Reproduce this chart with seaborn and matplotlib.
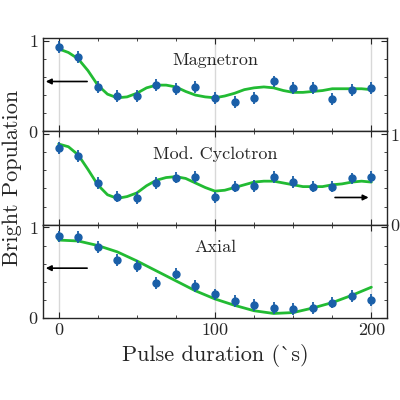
import numpy as np
import pandas as pd
import matplotlib
matplotlib.use("Agg")
import matplotlib.pyplot as plt
import seaborn as sns

sns.set_style("ticks")
plt.rcParams['font.family'] = ['cmr10', 'DejaVu Serif']
plt.rcParams['mathtext.fontset'] = 'cm'
plt.rcParams['axes.formatter.use_mathtext'] = True

t = [0, 12.5, 25, 37.5, 50, 62.5, 75, 87.5, 100, 112.5, 125, 137.5, 150, 162.5, 175, 187.5, 200]
mag = [.93, .82, .49, .39, .39, .51, .47, .49, .37, .32, .37, .55, .48, .48, .36, .46, .48]
cyc = [.85, .76, .46, .31, .29, .46, .52, .53, .30, .42, .43, .53, .47, .42, .42, .51, .53]
axi = [.90, .89, .78, .64, .57, .39, .49, .35, .26, .19, .14, .11, .10, .11, .17, .24, .20]
err = 0.065

t_fit = [i * 6.25 for i in range(33)]
mag_fit = [.91, .87, .80, .67, .51, .41, .37, .38, .42, .48, .51, .51, .49, .44, .40, .38, .37,
           .39, .42, .46, .48, .49, .48, .45, .43, .43, .44, .45, .47, .47, .47, .47, .46]
cyc_fit = [.89, .86, .77, .61, .44, .33, .29, .31, .35, .43, .49, .52, .53, .51, .46, .41, .37,
           .38, .41, .44, .47, .48, .48, .46, .44, .42, .42, .42, .44, .45, .47, .48, .47]
t_fit_ax = t
axi_fit = [.86, .85, .80, .73, .63, .52, .41, .30, .21, .14, .08, .05, .06, .11, .17, .25, .34]

fig = plt.figure(figsize=(4, 4), dpi=100)
gs = fig.add_gridspec(3, 1, left=0.1075, right=0.9675, bottom=0.205, top=0.905, hspace=0)
axes = [fig.add_subplot(gs[i]) for i in range(3)]

blue = '#1a5fa8'
green = '#22bb33'
panels = [
    (mag, t_fit, mag_fit, 'Magnetron', (20, -10, 0.55)),
    (cyc, t_fit, cyc_fit, 'Mod. Cyclotron', (175, 200, 0.30)),
    (axi, t_fit_ax, axi_fit, 'Axial', (20, -10, 0.55)),
]
for ax, (pts, tf, fit, title, arr) in zip(axes, panels):
    for gx in [0, 100, 200]:
        ax.axvline(gx, color='#d8d8d8', lw=1.0, zorder=0)
    sns.lineplot(x=tf, y=fit, ax=ax, color=green, lw=2, zorder=2)
    ax.errorbar(t, pts, yerr=err, fmt='o', color=blue, ms=5, elinewidth=1.3, capsize=0, zorder=3)
    ax.set_xlim(-10, 210)
    ax.set_ylim(0, 1.03)
    ax.set_yticks([0, 1])
    ax.set_yticks([0.2, 0.4, 0.6, 0.8], minor=True)
    ax.set_xticks([0, 100, 200])
    ax.set_xticks(np.arange(0, 201, 25), minor=True)
    ax.tick_params(direction='in', which='both', top=True, right=True, labelsize=13)
    ax.tick_params(which='major', length=4)
    ax.tick_params(which='minor', length=2)
    ax.text(100, 0.78, title, ha='center', va='center', fontsize=13)
    ax.annotate('', xy=(arr[1], arr[2]), xytext=(arr[0], arr[2]),
                arrowprops=dict(arrowstyle='-|>', color='black', lw=1.2, mutation_scale=8))
    for s in ax.spines.values():
        s.set_linewidth(1.0)

axes[0].tick_params(labelbottom=False)
axes[1].tick_params(labelbottom=False, labelleft=False, labelright=True, pad=2)
axes[1].set_yticks([0, 1])
axes[2].set_xticklabels(['0', '100', '200'])
axes[2].set_xlabel('Pulse duration (µs)', fontsize=16)
fig.text(0.03, 0.555, 'Bright Population', rotation=90, ha='center', va='center', fontsize=16)
fig.savefig('out.png', dpi=100)
